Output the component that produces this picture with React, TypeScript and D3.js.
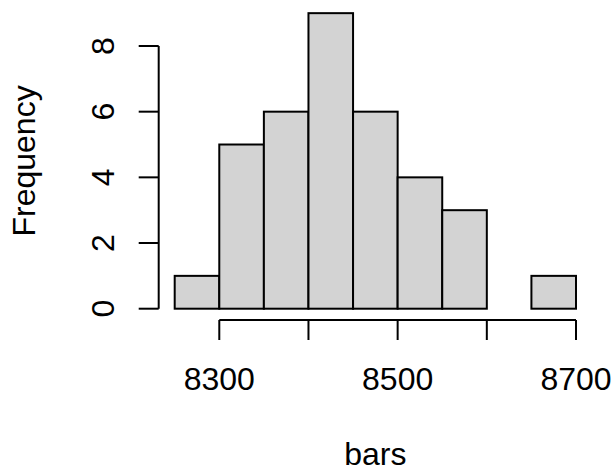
import React from 'react';
import { scaleLinear } from 'd3';

// histogram of "bars": bin edges and counts
const binStarts = [8250, 8300, 8350, 8400, 8450, 8500, 8550, 8600, 8650];
const binWidth = 50;
const counts = [1, 5, 6, 9, 6, 4, 3, 0, 1];

const xTicks = [8300, 8400, 8500, 8600, 8700];
const xLabels = ['8300', '', '8500', '', '8700'];
const yTicks = [0, 2, 4, 6, 8];

const width = 614;
const height = 467;
const font = '"Liberation Sans", Arial, sans-serif';
const fontSize = 32;

function App() {
    const x = scaleLinear().domain([8250, 8700]).range([174.7, 576]);
    const y = scaleLinear().domain([0, 8]).range([308.7, 46]);

    const axisY = 320; // x axis line
    const axisX = 158.7; // y axis line
    const tickLen = 20;
    const lw = 2;

    return (
        <svg width={width} height={height}
            style={{ position: 'absolute', left: 0, top: 0, background: '#fff' }}
            fontFamily={font}>
            {/* bars */}
            {binStarts.map((b, i) => (
                <rect key={b}
                    x={x(b)} y={y(counts[i])}
                    width={x(b + binWidth) - x(b)}
                    height={y(0) - y(counts[i])}
                    fill="#D3D3D3" stroke="#000" strokeWidth={lw} />
            ))}

            {/* x axis */}
            <line x1={x(xTicks[0])} x2={x(xTicks[xTicks.length - 1])} y1={axisY} y2={axisY}
                stroke="#000" strokeWidth={lw} />
            {xTicks.map((t, i) => (
                <g key={t}>
                    <line x1={x(t)} x2={x(t)} y1={axisY} y2={axisY + tickLen} stroke="#000" strokeWidth={lw} />
                    {xLabels[i] && (
                        <text x={x(t)} y={390} textAnchor="middle" fontSize={fontSize}>{xLabels[i]}</text>
                    )}
                </g>
            ))}

            {/* y axis */}
            <line x1={axisX} x2={axisX} y1={y(0)} y2={y(8)} stroke="#000" strokeWidth={lw} />
            {yTicks.map(t => (
                <g key={t}>
                    <line x1={axisX - tickLen} x2={axisX} y1={y(t)} y2={y(t)} stroke="#000" strokeWidth={lw} />
                    <text transform={`translate(114, ${y(t)}) rotate(-90)`} textAnchor="middle" fontSize={fontSize}>{t}</text>
                </g>
            ))}

            {/* axis titles */}
            <text x={x(8475)} y={465} textAnchor="middle" fontSize={fontSize}>bars</text>
            <text transform={`translate(35, ${y(4.5)}) rotate(-90)`} textAnchor="middle" fontSize={fontSize}>Frequency</text>
        </svg>
    );
}

export default App;
